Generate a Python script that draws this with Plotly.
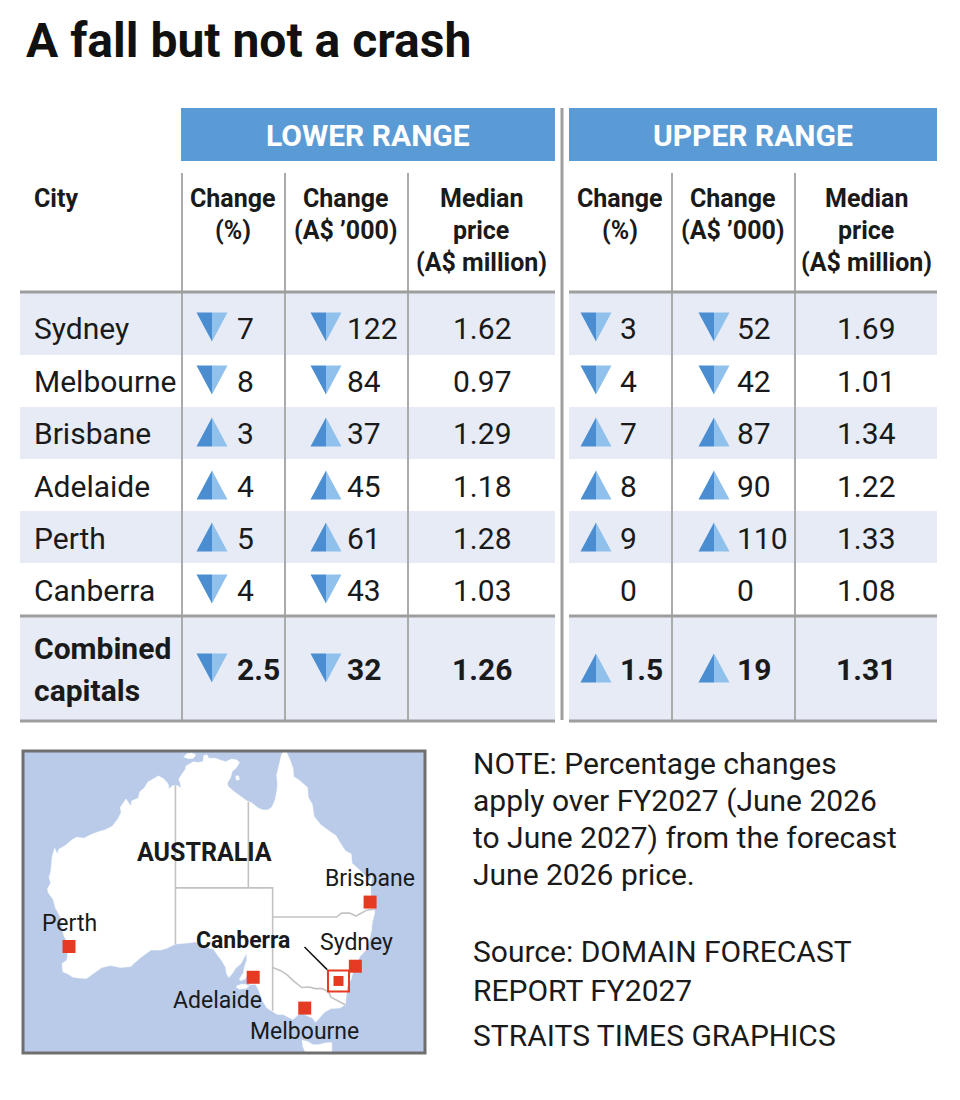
import numpy as np
import plotly.graph_objects as go

# ---------------------------------------------------------------- data
title_text = "A fall but not a crash"
group_titles = ["LOWER RANGE", "UPPER RANGE"]
city_header = "City"
column_headers = [["Change", "(%)"], ["Change", "(A$ ’000)"], ["Median", "price", "(A$ million)"]]

cities = ["Sydney", "Melbourne", "Brisbane", "Adelaide", "Perth", "Canberra", "Combined capitals"]
lower_change_pct = [-7, -8, 3, 4, 5, -4, -2.5]
lower_change_k = [-122, -84, 37, 45, 61, -43, -32]
lower_median = [1.62, 0.97, 1.29, 1.18, 1.28, 1.03, 1.26]
upper_change_pct = [-3, -4, 7, 8, 9, 0, 1.5]
upper_change_k = [-52, -42, 87, 90, 110, 0, 19]
upper_median = [1.69, 1.01, 1.34, 1.22, 1.33, 1.08, 1.31]

note_lines = ["NOTE: Percentage changes", "apply over FY2027 (June 2026",
              "to June 2027) from the forecast", "June 2026 price."]
source_lines = ["Source: DOMAIN FORECAST", "REPORT FY2027", "STRAITS TIMES GRAPHICS"]

map_country = "AUSTRALIA"
map_country_lon, map_country_lat = 132.6, -22.2
map_cities = ["Perth", "Adelaide", "Melbourne", "Canberra", "Sydney", "Brisbane"]
map_city_lon = [115.86, 138.60, 144.96, 149.13, 151.21, 153.03]
map_city_lat = [-31.95, -34.93, -37.81, -35.28, -33.87, -27.47]

mainland_lon = [142.5, 143.1, 143.5, 143.6, 144.3, 145.3, 145.4, 145.9, 146.1, 146.9, 148.1, 148.8,
                149.4, 150.0, 150.7, 150.8, 151.6, 152.5, 152.9, 153.3, 153.1, 153.1, 153.2, 153.5,
                153.6, 153.3, 153.2, 153.0, 152.9, 152.5, 151.8, 151.4, 151.2, 150.9, 150.7, 150.2,
                150.1, 149.97, 149.3, 148.2, 147.4, 146.9, 146.3, 145.9, 145.5, 145.0, 144.7, 144.5,
                144.2, 143.5, 142.9, 142.3, 141.6, 140.9, 140.3, 139.8, 139.6, 139.3, 138.9, 138.4,
                138.1, 138.4, 138.5, 138.3, 138.1, 137.9, 137.6, 137.0, 136.9, 137.4, 137.5, 137.8,
                137.8, 137.5, 137.1, 136.4, 136.0, 135.6, 135.3, 135.2, 134.7, 134.2, 133.7, 132.7,
                131.5, 130.5, 129.0, 128.0, 127.2, 126.0, 124.9, 124.0, 123.5, 122.2, 121.0, 119.9,
                119.0, 118.0, 117.0, 116.3, 115.7, 115.1, 115.0, 115.6, 115.7, 115.75, 115.6, 115.2,
                115.0, 114.95, 114.6, 114.2, 113.9, 113.3, 113.2, 113.6, 113.4, 113.6, 113.7, 113.8,
                114.1, 114.4, 114.6, 115.4, 116.2, 116.8, 117.7, 118.6, 119.5, 120.3, 121.2, 121.9,
                122.3, 122.2, 122.9, 123.5, 123.6, 124.4, 124.6, 125.2, 125.6, 126.3, 126.9, 127.5,
                128.1, 128.2, 128.6, 129.3, 129.7, 129.6, 129.4, 129.8, 130.2, 130.3, 130.8, 131.2,
                131.7, 132.4, 132.5, 132.9, 133.1, 133.9, 134.5, 135.2, 135.9, 136.6, 136.9, 136.5,
                136.0, 135.8, 135.4, 135.5, 136.3, 137.0, 137.8, 138.4, 139.2, 139.8, 140.4, 140.9,
                141.3, 141.5, 141.6, 141.5, 141.7, 141.9, 142.1, 142.5]
mainland_lat = [-10.7, -11.9, -12.9, -13.9, -14.3, -15.1, -16.2, -17.0, -18.3, -19.2, -20.0, -20.4,
                -21.3, -22.1, -22.4, -23.4, -24.0, -24.8, -25.3, -24.7, -25.8, -26.5, -27.2, -28.0,
                -28.6, -29.5, -30.3, -31.0, -31.5, -32.3, -32.9, -33.5, -34.0, -34.5, -35.1, -35.8,
                -36.5, -37.5, -37.8, -37.85, -38.2, -38.6, -39.1, -38.7, -38.6, -38.4, -38.3, -38.1,
                -38.4, -38.85, -38.6, -38.4, -38.4, -38.05, -37.8, -37.2, -36.8, -36.2, -35.6, -35.6,
                -35.65, -35.3, -34.9, -34.5, -34.2, -34.6, -35.1, -35.25, -35.1, -34.5, -34.0, -33.3,
                -32.6, -33.0, -33.6, -34.1, -34.6, -34.95, -34.6, -34.0, -33.3, -32.8, -32.2, -32.0,
                -31.5, -31.6, -31.7, -32.1, -32.3, -32.3, -32.9, -33.5, -33.9, -34.0, -33.8, -34.0,
                -34.5, -35.05, -35.0, -34.9, -34.6, -34.4, -33.6, -33.3, -32.6, -32.0, -31.5, -30.8,
                -30.0, -29.3, -28.7, -28.1, -27.2, -26.5, -26.1, -25.5, -24.9, -24.3, -23.5, -22.6,
                -21.8, -22.4, -21.9, -21.5, -20.9, -20.6, -20.7, -20.3, -20.0, -19.8, -19.4, -18.6,
                -17.9, -17.3, -16.4, -17.2, -16.6, -16.3, -15.6, -15.1, -14.5, -14.1, -13.8, -14.1,
                -14.7, -15.3, -14.9, -14.9, -15.2, -14.6, -14.2, -13.6, -13.1, -12.7, -12.4, -12.2,
                -12.3, -12.2, -11.5, -11.4, -11.8, -11.8, -12.0, -12.2, -11.9, -12.0, -12.3, -12.9,
                -13.3, -14.0, -14.6, -15.0, -15.6, -16.1, -16.6, -16.8, -17.4, -17.6, -17.6, -17.3,
                -16.5, -15.6, -14.8, -13.7, -12.8, -12.2, -11.4, -10.7]
islands_lon = [
    [144.6, 145.3, 146.0, 146.6, 147.5, 148.3, 148.3, 148.3, 147.9, 147.5, 146.9, 146.0, 145.3, 145.2, 144.7],
    [136.55, 137.1, 137.6, 138.1, 137.7, 136.9, 136.55],
    [130.0, 130.4, 131.0, 131.5, 131.2, 130.6],
    [136.4, 136.8, 136.9, 136.5],
]
islands_lat = [
    [-40.7, -40.8, -41.1, -41.1, -40.95, -40.9, -41.5, -42.1, -42.9, -43.2, -43.6, -43.5, -42.5, -42.0, -41.2],
    [-35.75, -35.6, -35.6, -35.75, -36.0, -36.05, -35.9],
    [-11.7, -11.3, -11.2, -11.4, -11.8, -11.85],
    [-13.8, -13.8, -14.2, -14.3],
]
borders_lon = [
    [129.0, 129.0],
    [129.0, 138.0],
    [138.0, 138.0],
    [138.0, 141.0, 141.0],
    [141.0, 148.9, 149.5, 150.5, 151.3, 152.0, 152.6, 153.55],
    [141.0, 142.0, 142.8, 143.6, 144.6, 145.5, 146.3, 147.1, 147.9, 148.2, 149.97],
]
borders_lat = [
    [-14.9, -31.7],
    [-26.0, -26.0],
    [-16.7, -26.0],
    [-26.0, -26.0, -38.05],
    [-29.0, -29.0, -28.6, -28.6, -28.9, -28.6, -28.3, -28.2],
    [-34.0, -34.3, -34.7, -35.3, -35.9, -35.85, -36.0, -36.0, -36.3, -36.8, -37.5],
]

# ---------------------------------------------------------------- style / layout
W, H = 960, 1100
FONT = "Roboto, 'Noto Sans', Arial, sans-serif"
INK = "#1a1a1a"
BAR = "#5b9bd5"
TINT = "#e6ebf6"
RULE = "#9e9e9e"
VRULE = "#ababab"
TRI_DARK = "#4a8dd0"
TRI_LIGHT = "#8fc1ec"
SEA = "#b9cbe9"
RED = "#e63b22"

row_top = [292, 355, 407, 459, 511, 563, 617]
row_bot = [355, 407, 459, 511, 563, 615, 720]
row_mid = [328, 381, 433, 486, 538, 590, 669]
TRI_W, TRI_H = 31, 29

blocks = [
    dict(bar=(181, 555), span=(20, 555), tri=[212, 326], num=[235, 345], med=482,
         head=[233, 346, 481], vlines=[182, 285, 408],
         vals=[lower_change_pct, lower_change_k], median=lower_median),
    dict(bar=(569, 937), span=(569, 937), tri=[596, 714], num=[618, 735], med=866,
         head=[620, 733, 866], vlines=[672, 795],
         vals=[upper_change_pct, upper_change_k], median=upper_median),
]

# map frame (pixels) and Mercator extents
MAP_BOX = (23, 751, 425, 1053)
MAP_LON_RANGE = [110.18, 159.81]
MAP_Y_RANGE = [-0.8048, -0.1928]


def merc(lat):
    lat = np.asarray(lat, dtype=float)
    return np.log(np.tan(np.pi / 4 + np.radians(lat) / 2))


shapes, anns = [], []


def text(x, y, s, size, bold=False, color=INK, xanchor="left", xref="x", yref="y",
         xshift=0, yshift=0):
    anns.append(dict(x=x, y=y, xref=xref, yref=yref, text=f"<b>{s}</b>" if bold else s,
                     showarrow=False, xanchor=xanchor, yanchor="middle",
                     xshift=xshift, yshift=yshift,
                     font=dict(family=FONT, size=size, color=color)))


def rect(x0, y0, x1, y1, fill, layer="below"):
    shapes.append(dict(type="rect", xref="x", yref="y", x0=x0, y0=y0, x1=x1, y1=y1,
                       fillcolor=fill, line=dict(width=0), layer=layer))


def line(x0, y0, x1, y1, color, width):
    shapes.append(dict(type="line", xref="x", yref="y", x0=x0, y0=y0, x1=x1, y1=y1,
                       line=dict(color=color, width=width), layer="above"))


fig = go.Figure()

# ---------------------------------------------------------------- title
text(24, 40, title_text, 48, bold=True, color="#111111")

# ---------------------------------------------------------------- table
tri_dark_x, tri_dark_y, tri_light_x, tri_light_y = [], [], [], []
for gi, b in enumerate(blocks):
    bx0, bx1 = b["bar"]
    sx0, sx1 = b["span"]
    rect(bx0, 108, bx1, 161, BAR)
    text((bx0 + bx1) / 2, 135, group_titles[gi], 30, bold=True, color="white", xanchor="center")
    for ci, hdr in enumerate(column_headers):
        for li, ln in enumerate(hdr):
            text(b["head"][ci], 198 + 32 * li, ln, 25, bold=True, xanchor="center")
    for ri in range(len(cities)):
        if ri % 2 == 0:
            rect(sx0, row_top[ri], sx1, row_bot[ri], TINT)
    for vx in b["vlines"]:
        line(vx, 173, vx, 720, VRULE, 2)
    for yy in (292, 616, 721):
        line(sx0, yy, sx1, yy, RULE, 3)
    # values
    for ri in range(len(cities)):
        bold = ri == len(cities) - 1
        for cj, series in enumerate(b["vals"]):
            v = series[ri]
            text(b["num"][cj], row_mid[ri], f"{abs(v):g}", 30, bold=bold)
            if v == 0:
                continue
            cx, cy = b["tri"][cj], row_mid[ri] - 1
            hw, hh = TRI_W / 2, TRI_H / 2
            if v > 0:
                tri_dark_x += [cx - hw, cx, cx, cx - hw, None]
                tri_dark_y += [cy + hh, cy - hh, cy + hh, cy + hh, None]
                tri_light_x += [cx, cx + hw, cx, cx, None]
                tri_light_y += [cy - hh, cy + hh, cy + hh, cy - hh, None]
            else:
                tri_dark_x += [cx - hw, cx, cx, cx - hw, None]
                tri_dark_y += [cy - hh, cy - hh, cy + hh, cy - hh, None]
                tri_light_x += [cx, cx + hw, cx, cx, None]
                tri_light_y += [cy - hh, cy - hh, cy + hh, cy - hh, None]
        text(b["med"], row_mid[ri], f"{b['median'][ri]:.2f}", 30, bold=bold, xanchor="center")

# separator between the two ranges
line(562, 108, 562, 720, RULE, 3)

# city column
text(32, 198, city_header, 25, bold=True)
for ri, c in enumerate(cities[:-1]):
    text(32, row_mid[ri], c, 30)
comb = cities[-1].split(" ")
text(32, 648, comb[0], 30, bold=True)
text(32, 690, comb[1], 30, bold=True)

fig.add_trace(go.Scatter(x=tri_dark_x, y=tri_dark_y, mode="lines", fill="toself",
                         fillcolor=TRI_DARK, line=dict(width=0, color=TRI_DARK),
                         hoverinfo="skip", showlegend=False))
fig.add_trace(go.Scatter(x=tri_light_x, y=tri_light_y, mode="lines", fill="toself",
                         fillcolor=TRI_LIGHT, line=dict(width=0, color=TRI_LIGHT),
                         hoverinfo="skip", showlegend=False))

# ---------------------------------------------------------------- notes
for i, s in enumerate(note_lines):
    text(471, [763, 800, 837, 874][i], s, 30)
for i, s in enumerate(source_lines):
    text(471, [951, 990, 1035][i], s, 30)

# ---------------------------------------------------------------- map
shapes.append(dict(type="rect", xref="x2 domain", yref="y2 domain", x0=0, y0=0, x1=1, y1=1,
                   fillcolor=SEA, line=dict(width=0), layer="below"))

land_x, land_y = list(mainland_lon) + [None], list(merc(mainland_lat)) + [None]
for ilon, ilat in zip(islands_lon, islands_lat):
    land_x += list(ilon) + [None]
    land_y += list(merc(ilat)) + [None]
fig.add_trace(go.Scatter(x=land_x, y=land_y, xaxis="x2", yaxis="y2", mode="lines",
                         fill="toself", fillcolor="white", line=dict(width=0.5, color="white"),
                         hoverinfo="skip", showlegend=False))

bx, by = [], []
for blon, blat in zip(borders_lon, borders_lat):
    bx += list(blon) + [None]
    by += list(merc(blat)) + [None]
fig.add_trace(go.Scatter(x=bx, y=by, xaxis="x2", yaxis="y2", mode="lines",
                         line=dict(width=1.6, color="#c2c2c2"), hoverinfo="skip", showlegend=False))

city_y = merc(map_city_lat)
sizes = [10 if c == "Canberra" else 13 for c in map_cities]
fig.add_trace(go.Scatter(x=map_city_lon, y=city_y, xaxis="x2", yaxis="y2", mode="markers",
                         marker=dict(symbol="square", size=sizes, color=RED, opacity=1,
                                     line=dict(width=0)),
                         hoverinfo="skip", showlegend=False))
ci = map_cities.index("Canberra")
fig.add_trace(go.Scatter(x=[map_city_lon[ci]], y=[city_y[ci]], xaxis="x2", yaxis="y2",
                         mode="markers",
                         marker=dict(symbol="square-open", size=21, color=RED, opacity=1,
                                     line=dict(width=2, color=RED)),
                         hoverinfo="skip", showlegend=False))

label_offsets = {"Perth": (0, 23), "Adelaide": (-36, -23), "Melbourne": (0, -23),
                 "Canberra": (-95, 40), "Sydney": (1, 24), "Brisbane": (0, 24)}
for name, lon, yv in zip(map_cities, map_city_lon, city_y):
    dx, dy = label_offsets[name]
    text(lon, float(yv), name, 23, bold=(name == "Canberra"),
         xanchor="center", xref="x2", yref="y2", xshift=dx, yshift=dy)
anns.append(dict(x=map_city_lon[ci], y=float(city_y[ci]), xref="x2", yref="y2", text=" ",
                 font=dict(size=2), showarrow=True, arrowhead=0, arrowwidth=1.6,
                 arrowcolor=INK, ax=-36, ay=-36, standoff=16))
text(map_country_lon, float(merc(map_country_lat)), map_country, 25, bold=True,
     xanchor="center", xref="x2", yref="y2")

shapes.append(dict(type="rect", xref="x2 domain", yref="y2 domain", x0=0, y0=0, x1=1, y1=1,
                   fillcolor="rgba(0,0,0,0)", line=dict(width=3, color="#6f6f6f"), layer="above"))

fig.update_layout(
    width=W, height=H, margin=dict(l=0, r=0, t=0, b=0),
    paper_bgcolor="white", plot_bgcolor="rgba(0,0,0,0)", showlegend=False,
    xaxis=dict(range=[0, W], visible=False, fixedrange=True),
    yaxis=dict(range=[H, 0], visible=False, fixedrange=True),
    xaxis2=dict(domain=[MAP_BOX[0] / W, MAP_BOX[2] / W], range=MAP_LON_RANGE,
                visible=False, anchor="y2", fixedrange=True),
    yaxis2=dict(domain=[1 - MAP_BOX[3] / H, 1 - MAP_BOX[1] / H], range=MAP_Y_RANGE,
                visible=False, anchor="x2", fixedrange=True),
    shapes=shapes, annotations=anns,
)

fig.write_html("out.html", config={"displayModeBar": False},
               post_script="document.body.style.margin='0px';")
